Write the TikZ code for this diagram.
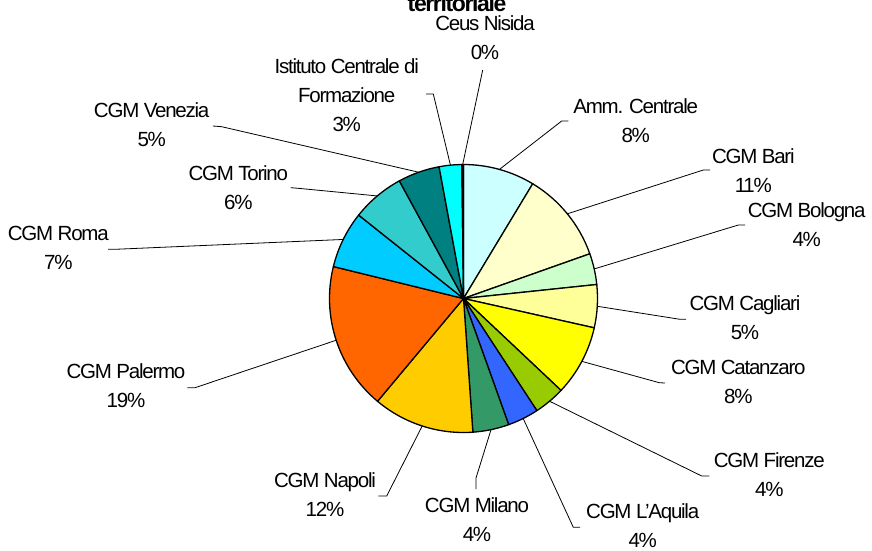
\documentclass[tikz,border=0pt]{standalone}
\usepackage{fontspec}
\setmainfont[LetterSpace=-6]{Liberation Sans}
\definecolor{cAmm}{HTML}{CCFFFF}
\definecolor{cBari}{HTML}{FFFFCC}
\definecolor{cBologna}{HTML}{CCFFCC}
\definecolor{cCagliari}{HTML}{FFFF99}
\definecolor{cCatanzaro}{HTML}{FFFF00}
\definecolor{cFirenze}{HTML}{99CC00}
\definecolor{cAquila}{HTML}{3366FF}
\definecolor{cMilano}{HTML}{339966}
\definecolor{cNapoli}{HTML}{FFCC00}
\definecolor{cPalermo}{HTML}{FF6600}
\definecolor{cRoma}{HTML}{00CCFF}
\definecolor{cTorino}{HTML}{33CCCC}
\definecolor{cVenezia}{HTML}{008080}
\definecolor{cIstituto}{HTML}{00FFFF}
\definecolor{cCeus}{HTML}{000080}
\begin{document}
\begin{tikzpicture}[x=1pt,y=-1pt,
  lbl/.style={font=\fontsize{20.5}{29}\selectfont, align=center, anchor=base, inner sep=0pt},
  slicepart/.style={draw=black, line width=1.3pt, line join=round},
  leader/.style={draw=black, line width=0.8pt},
  ttl/.style={font=\bfseries\fontsize{23}{23}\selectfont, anchor=base, inner sep=0pt}]
\useasboundingbox[fill=white] (0,0) rectangle (872,550);
\coordinate (c) at (463.5,298.5);
\def\R{134}
% slices: start/end angle clockwise from top
\foreach \a/\b/\col/\nm in {
  0/31.1/cAmm/Amm,
  31.1/70.5/cBari/Bari,
  70.5/84.0/cBologna/Bologna,
  84.0/102.65/cCagliari/Cagliari,
  102.65/133.3/cCatanzaro/Catanzaro,
  133.3/146.8/cFirenze/Firenze,
  146.8/160.3/cAquila/Aquila,
  160.3/176/cMilano/Milano,
  176/219.9/cNapoli/Napoli,
  219.9/283.8/cPalermo/Palermo,
  283.8/308.5/cRoma/Roma,
  308.5/331.4/cTorino/Torino,
  331.4/349.5/cVenezia/Venezia,
  349.5/359.3/cIstituto/Istituto,
  359.3/360/cCeus/Ceus} {
  \filldraw[slicepart, fill=\col] (c) -- ++(\a-90:\R) arc[start angle=\a-90, end angle=\b-90, radius=\R] -- cycle;
  \path (c) ++({(\a+\b)/2-90}:\R) coordinate (m\nm);
}
% title
\node[ttl] (title) at (457,11) {territoriale};
% labels (anchor = baseline of last line)
\node[lbl] (lCeus) at (485,59) {Ceus Nisida\\0\%};
\node[lbl] (lIstituto) at (346.7,131) {Istituto Centrale di\\Formazione\\3\%};
\node[lbl] (lVenezia) at (151.7,146) {CGM Venezia\\5\%};
\node[lbl] (lTorino) at (238.3,209) {CGM Torino\\6\%};
\node[lbl] (lRoma) at (58.3,269) {CGM Roma\\7\%};
\node[lbl] (lAmm) at (635.7,142.5) {Amm. Centrale\\8\%};
\node[lbl] (lBari) at (753.3,192.5) {CGM Bari\\11\%};
\node[lbl] (lBologna) at (806.7,246) {CGM Bologna\\4\%};
\node[lbl] (lCagliari) at (745,339) {CGM Cagliari\\5\%};
\node[lbl] (lCatanzaro) at (738.3,403) {CGM Catanzaro\\8\%};
\node[lbl] (lFirenze) at (769.3,496) {CGM Firenze\\4\%};
\node[lbl] (lAquila) at (642.7,547.5) {CGM L'Aquila\\4\%};
\node[lbl] (lMilano) at (477,541) {CGM Milano\\4\%};
\node[lbl] (lNapoli) at (325,516) {CGM Napoli\\12\%};
\node[lbl] (lPalermo) at (126,407.5) {CGM Palermo\\19\%};
% leader bends and ends
\coordinate (kCeus) at (482.7,70);
\coordinate (kIstituto) at (433.3,94);   \coordinate (tIstituto) at (426,94);
\coordinate (kVenezia) at (221.7,126.7); \coordinate (tVenezia) at (213,126);
\coordinate (kTorino) at (298.3,188.3);  \coordinate (tTorino) at (290.7,187.7);
\coordinate (kRoma) at (115,249.3);      \coordinate (tRoma) at (108,249.3);
\coordinate (kAmm) at (561.7,121);       \coordinate (tAmm) at (568.3,121);
\coordinate (kBari) at (703.3,170);      \coordinate (tBari) at (710,170);
\coordinate (kBologna) at (738.3,225);   \coordinate (tBologna) at (745,225);
\coordinate (kCagliari) at (680,319.3);  \coordinate (tCagliari) at (686,319.3);
\coordinate (kCatanzaro) at (659.3,382.7); \coordinate (tCatanzaro) at (665,383);
\coordinate (kFirenze) at (701.7,476);   \coordinate (tFirenze) at (709.3,476);
\coordinate (kAquila) at (573.3,527.3);  \coordinate (tAquila) at (580,527.3);
\coordinate (kMilano) at (476,478);      \coordinate (tMilano) at (476,489);
\coordinate (kNapoli) at (386.7,496);    \coordinate (tNapoli) at (378.3,496);
\coordinate (kPalermo) at (195,387.7);   \coordinate (tPalermo) at (187.3,387.7);
\draw[leader] (mCeus) -- (kCeus);
\foreach \nm in {Istituto,Venezia,Torino,Roma,Amm,Bari,Bologna,Cagliari,Catanzaro,Firenze,Aquila,Milano,Napoli,Palermo}
  \draw[leader] (m\nm) -- (k\nm) -- (t\nm);
\end{tikzpicture}
\end{document}
